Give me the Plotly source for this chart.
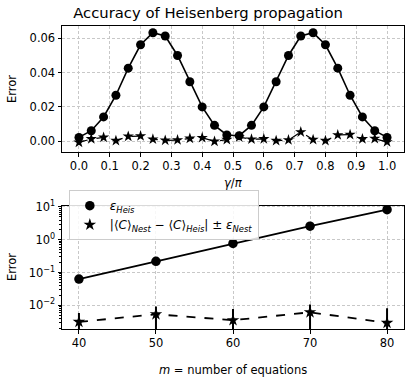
import plotly.graph_objects as go
from plotly.subplots import make_subplots

# top panel: error vs gamma/pi
gamma = [0.00, 0.04, 0.08, 0.12, 0.16, 0.20, 0.24, 0.28, 0.32, 0.36, 0.40, 0.44, 0.48,
         0.52, 0.56, 0.60, 0.64, 0.68, 0.72, 0.76, 0.80, 0.84, 0.88, 0.92, 0.96, 1.00]
eps_heis = [0.0023, 0.0062, 0.0142, 0.0268, 0.0425, 0.0561, 0.0631, 0.0612, 0.0499,
            0.0346, 0.0200, 0.0093, 0.0037, 0.0033, 0.0093, 0.0200, 0.0346, 0.0499,
            0.0612, 0.0631, 0.0561, 0.0425, 0.0268, 0.0142, 0.0062, 0.0023]
diff_nest = [-0.0006, 0.0014, 0.0023, 0.0004, 0.0029, 0.0031, 0.0012, 0.0006, 0.0008,
             0.0017, 0.0021, 0.0000, 0.0010, 0.0025, 0.0012, 0.0014, 0.0004, 0.0008,
             0.0054, 0.0010, 0.0004, 0.0037, 0.0039, 0.0014, 0.0016, -0.0004]
eps_nest = [0.0010] * 26

# bottom panel: error vs number of equations
m_eq = [40, 50, 60, 70, 80]
eps_heis_m = [0.063, 0.22, 0.77, 2.6, 8.3]
diff_nest_m = [0.0031, 0.0053, 0.0035, 0.0061, 0.0029]
eps_nest_m = [0.0027, 0.0038, 0.0042, 0.0045, 0.0052]

FONT = "DejaVu Sans"
GRID = "#c8c8c8"

fig = make_subplots(rows=2, cols=1, vertical_spacing=0.0)

# top panel
fig.add_trace(go.Scatter(x=gamma, y=eps_heis, mode="lines+markers",
                         line=dict(color="black", width=1.6),
                         marker=dict(symbol="circle", size=9, color="black"),
                         showlegend=False), row=1, col=1)
fig.add_trace(go.Scatter(x=gamma, y=diff_nest, mode="lines+markers",
                         line=dict(color="black", width=1.2, dash="dash"),
                         marker=dict(symbol="star", size=8.5, color="black"),
                         error_y=dict(type="data", array=eps_nest, color="black",
                                      thickness=1.5, width=0),
                         showlegend=False), row=1, col=1)

# bottom panel
fig.add_trace(go.Scatter(x=m_eq, y=eps_heis_m, mode="lines",
                         line=dict(color="black", width=1.8),
                         showlegend=False), row=2, col=1)
fig.add_trace(go.Scatter(x=m_eq, y=diff_nest_m, mode="lines",
                         line=dict(color="black", width=1.8, dash="dash"),
                         error_y=dict(type="data", array=eps_nest_m, color="black",
                                      thickness=2, width=0),
                         showlegend=False), row=2, col=1)
fig.add_trace(go.Scatter(x=m_eq, y=eps_heis_m, mode="markers",
                         marker=dict(symbol="circle", size=9.5, color="black"),
                         name="<i>ε</i><sub><i>Heis</i></sub>"), row=2, col=1)
fig.add_trace(go.Scatter(x=m_eq, y=diff_nest_m, mode="markers",
                         marker=dict(symbol="star", size=9.5, color="black"),
                         name="|⟨<i>C</i>⟩<sub><i>Nest</i></sub> − ⟨<i>C</i>⟩<sub><i>Heis</i></sub>| ± <i>ε</i><sub><i>Nest</i></sub>"),
              row=2, col=1)

axis_common = dict(showline=True, mirror=True, linecolor="black", linewidth=1,
                   ticks="outside", ticklen=3.5, tickcolor="black",
                   showgrid=True, gridcolor=GRID, griddash="3px,2px", gridwidth=0.8,
                   zeroline=False, tickfont=dict(size=11.5, color="black"))

fig.update_xaxes(axis_common)
fig.update_yaxes(axis_common)

fig.update_xaxes(range=[-0.055, 1.055], tickvals=[i / 10 for i in range(11)],
                 tickformat=".1f", row=1, col=1)
fig.update_yaxes(range=[-0.0062, 0.067], tickvals=[0, 0.02, 0.04, 0.06],
                 tickformat=".2f", row=1, col=1)
fig.update_xaxes(range=[37.8, 82.2], tickvals=m_eq, row=2, col=1)
fig.update_yaxes(type="log", range=[-2.725, 1.04],
                 tickvals=[0.01, 0.1, 1, 10],
                 ticktext=["10<sup>−2</sup>", "10<sup>−1</sup>", "10<sup>0</sup>", "10<sup>1</sup>"],
                 minor=dict(ticks="outside", ticklen=2, tickcolor="black", dtick="D1",
                            showgrid=False),
                 row=2, col=1)

fig.update_layout(
    xaxis=dict(domain=[0, 1]),
    yaxis=dict(domain=[0.584, 1.0]),
    yaxis2=dict(domain=[0.0, 0.407]),
)

lab = dict(size=11.5, color="black", family=FONT)
annotations = [
    dict(text="Error", x=-0.146, y=0.792, textangle=-90),
    dict(text="Error", x=-0.146, y=0.205, textangle=-90),
    dict(text="<i>γ</i>/<i>π</i>", x=0.5, y=0.482),
    dict(text="<i>m</i> = number of equations", x=0.5, y=-0.135),
]
fig.update_layout(annotations=[dict(a, xref="paper", yref="paper", showarrow=False,
                                    xanchor="center", yanchor="middle", font=lab)
                               for a in annotations])

fig.update_layout(
    width=416, height=379,
    margin=dict(l=62, r=12, t=26, b=50),
    paper_bgcolor="white", plot_bgcolor="white",
    font=dict(family=FONT, color="black", size=11),
    title=dict(text="Accuracy of Heisenberg propagation", xref="container", x=0.5,
               xanchor="center", y=1 - 13 / 379, yanchor="middle",
               font=dict(size=14.8, family=FONT, color="black")),
    legend=dict(x=0.02, y=0.458, xanchor="left", yanchor="top",
                bgcolor="rgba(255,255,255,0.85)", bordercolor="#cccccc", borderwidth=1,
                font=dict(size=12, family=FONT), tracegroupgap=0,
                itemwidth=30),
)

fig.write_html("out.html", config={"displayModeBar": False},
               post_script="document.body.style.margin='0';")
